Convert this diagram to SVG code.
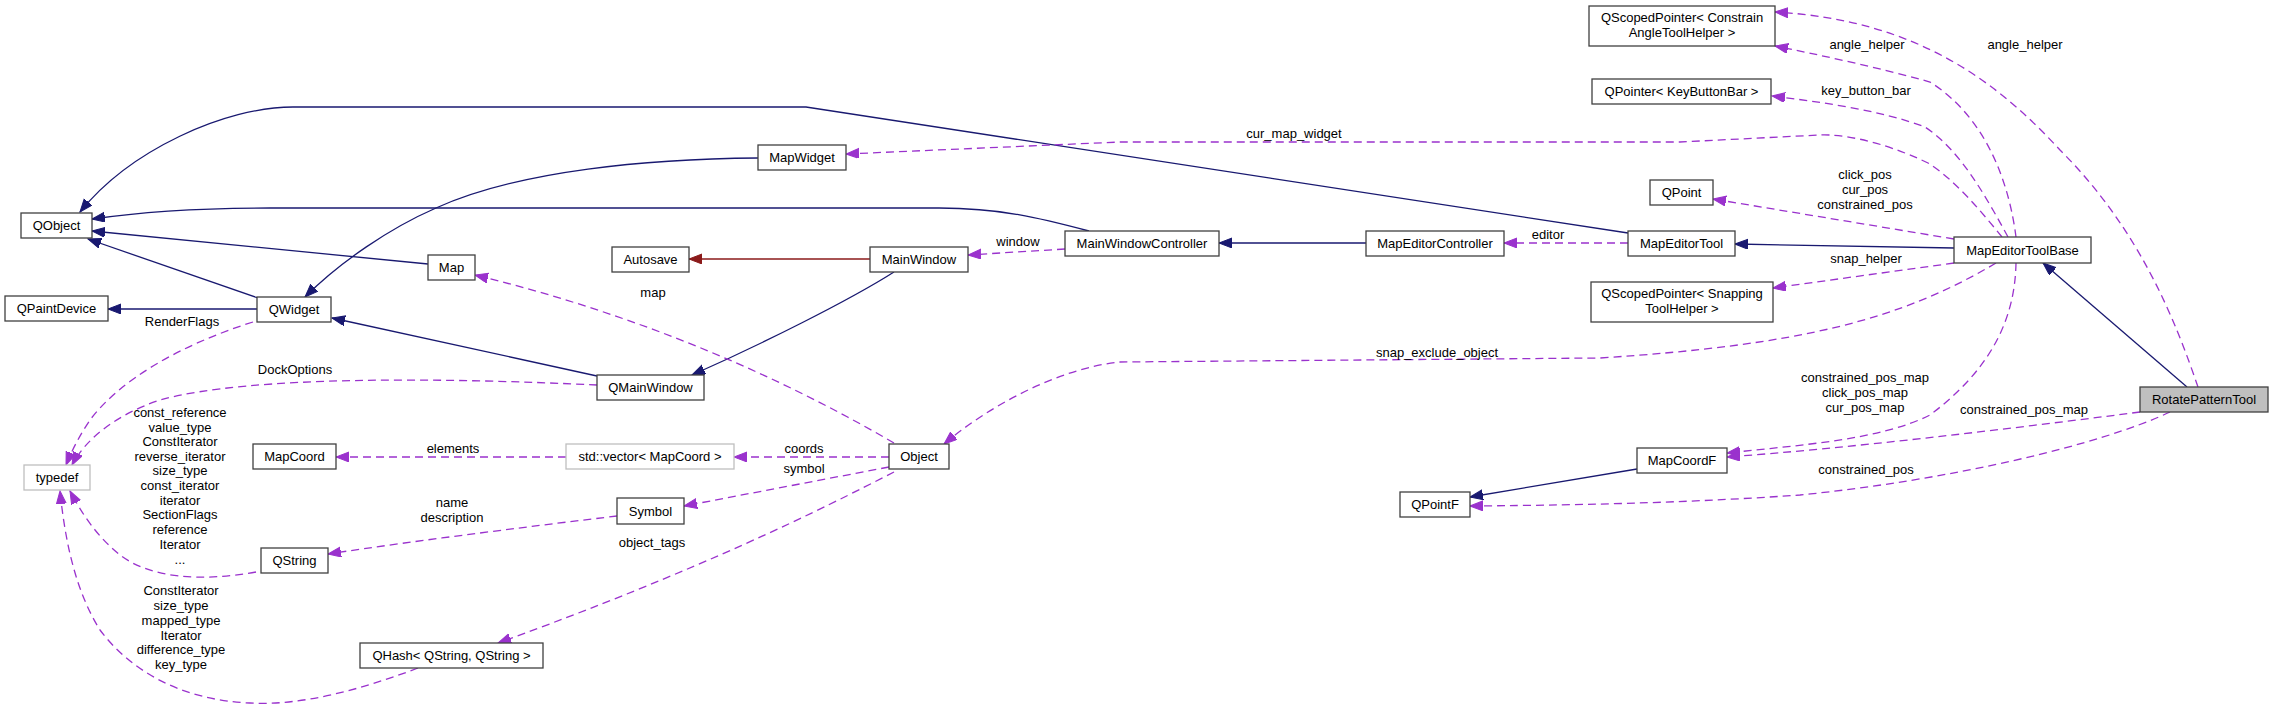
<svg xmlns="http://www.w3.org/2000/svg" width="2273" height="710" viewBox="0 0 2273 710">
<style>
.n rect{fill:#fff;stroke:#404040;stroke-width:1.3}
.n.g rect{stroke:#bfbfbf}
.n.m rect{fill:#bfbfbf}
text{font-family:"Liberation Sans",Arial,sans-serif;font-size:13px;fill:#000}
.n text{text-anchor:middle}
.l{text-anchor:middle}
.e path{fill:none;stroke-width:1.3}
.i{stroke:#191970;marker-end:url(#ai)}
.p{stroke:#8b1a1a;marker-end:url(#ap)}
.u{stroke:#9a32cd;stroke-dasharray:8,5;marker-end:url(#au)}
</style>
<defs>
<marker id="ai" markerUnits="userSpaceOnUse" markerWidth="14" markerHeight="11" refX="13" refY="5" orient="auto"><path d="M0,0L13,5L0,10z" fill="#191970" stroke="#191970"/></marker>
<marker id="ap" markerUnits="userSpaceOnUse" markerWidth="14" markerHeight="11" refX="13" refY="5" orient="auto"><path d="M0,0L13,5L0,10z" fill="#8b1a1a" stroke="#8b1a1a"/></marker>
<marker id="au" markerUnits="userSpaceOnUse" markerWidth="14" markerHeight="11" refX="13" refY="5" orient="auto"><path d="M0,0L13,5L0,10z" fill="#9a32cd" stroke="#9a32cd"/></marker>
</defs>
<rect width="2273" height="710" fill="#fff"/>
<g class="e" id="edges">
<path class="i" d="M1628,233 L806,107 L293,107 C225,107 130,150 80,212"/>
<path class="i" d="M1089,231 C1040,218 1000,208 939,208 L270,208 C200,208 140,212 92,219"/>
<path class="i" d="M428,264 L92,231"/>
<path class="i" d="M258,298 L88,239"/>
<path class="i" d="M257,309 L108,309"/>
<path class="i" d="M758,158 C650,159 520,170 436,208 C390,228 340,262 305,297"/>
<path class="i" d="M597,376 L332,318"/>
<path class="i" d="M894,272 C850,300 760,345 692,375"/>
<path class="p" d="M870,259 L689,259"/>
<path class="u" d="M1065,249 L968,255"/>
<path class="i" d="M1366,243 L1219,243"/>
<path class="u" d="M1628,243 L1504,243"/>
<path class="i" d="M1954,248 L1735,244"/>
<path class="i" d="M2187,387 L2043,263"/>
<path class="u" d="M2002,237 C1980,210 1955,180 1928,163 C1880,140 1840,134 1820,135 L1680,142 L1120,142 L846,154"/>
<path class="u" d="M2008,237 C1985,195 1960,150 1925,127 C1880,110 1820,102 1772,96"/>
<path class="u" d="M2016,237 C2010,190 1990,120 1930,82 C1880,68 1820,55 1775,46"/>
<path class="u" d="M2198,387 C2175,320 2140,230 2060,150 C2000,85 1920,20 1775,12"/>
<path class="u" d="M1954,239 L1713,199"/>
<path class="u" d="M1954,263 L1773,288"/>
<path class="u" d="M1996,263 C1900,320 1800,345 1600,358 L1120,362 C1060,368 990,405 944,444"/>
<path class="u" d="M2016,263 C2015,320 1990,370 1930,415 C1880,440 1800,445 1727,453"/>
<path class="u" d="M2140,412 C2000,430 1850,448 1727,457"/>
<path class="u" d="M2170,412 C2100,445 1950,480 1800,495 C1700,502 1600,505 1470,506"/>
<path class="i" d="M1637,469 L1470,497"/>
<path class="u" d="M894,443 Q700,330 475,275"/>
<path class="u" d="M889,457 L734,457"/>
<path class="u" d="M889,467 L684,506"/>
<path class="u" d="M894,472 C820,510 700,570 498,643"/>
<path class="u" d="M566,457 L336,457"/>
<path class="u" d="M617,516 C550,524 420,540 328,554"/>
<path class="u" d="M253,322 C180,345 120,380 90,420 C80,435 72,450 66,465"/>
<path class="u" d="M597,385 C450,378 250,375 160,400 C115,415 85,440 72,465"/>
<path class="u" d="M256,572 C200,582 150,578 120,555 C95,535 80,510 70,491"/>
<path class="u" d="M418,668 C360,690 300,706 250,703 C180,700 130,670 100,630 C75,590 65,540 60,491"/>
</g>
<g id="edge-labels">
<text class="l" x="182" y="326">RenderFlags</text>
<text class="l" x="295" y="374">DockOptions</text>
<text class="l" x="180" y="417">const_reference</text>
<text class="l" x="180" y="431.5">value_type</text>
<text class="l" x="180" y="446">ConstIterator</text>
<text class="l" x="180" y="461">reverse_iterator</text>
<text class="l" x="180" y="475">size_type</text>
<text class="l" x="180" y="490">const_iterator</text>
<text class="l" x="180" y="504.5">iterator</text>
<text class="l" x="180" y="519">SectionFlags</text>
<text class="l" x="180" y="534">reference</text>
<text class="l" x="180" y="549">Iterator</text>
<text class="l" x="180" y="564">...</text>
<text class="l" x="181" y="595">ConstIterator</text>
<text class="l" x="181" y="610">size_type</text>
<text class="l" x="181" y="625">mapped_type</text>
<text class="l" x="181" y="639.5">Iterator</text>
<text class="l" x="181" y="654">difference_type</text>
<text class="l" x="181" y="669">key_type</text>
<text class="l" x="453" y="453">elements</text>
<text class="l" x="452" y="507">name</text>
<text class="l" x="452" y="522">description</text>
<text class="l" x="653" y="297">map</text>
<text class="l" x="1018" y="246">window</text>
<text class="l" x="804" y="453">coords</text>
<text class="l" x="804" y="473">symbol</text>
<text class="l" x="652" y="547">object_tags</text>
<text class="l" x="1294" y="138">cur_map_widget</text>
<text class="l" x="1548" y="239">editor</text>
<text class="l" x="1437" y="357">snap_exclude_object</text>
<text class="l" x="1867" y="49">angle_helper</text>
<text class="l" x="2025" y="49">angle_helper</text>
<text class="l" x="1866" y="95">key_button_bar</text>
<text class="l" x="1865" y="179">click_pos</text>
<text class="l" x="1865" y="194">cur_pos</text>
<text class="l" x="1865" y="209">constrained_pos</text>
<text class="l" x="1866" y="263">snap_helper</text>
<text class="l" x="1865" y="382">constrained_pos_map</text>
<text class="l" x="1865" y="397">click_pos_map</text>
<text class="l" x="1865" y="411.5">cur_pos_map</text>
<text class="l" x="2024" y="414">constrained_pos_map</text>
<text class="l" x="1866" y="474">constrained_pos</text>
</g>
<g class="n m" id="RotatePatternTool"><rect x="2140" y="387" width="128" height="25"/><text x="2204" y="404">RotatePatternTool</text></g>
<g class="n" id="MapEditorToolBase"><rect x="1954" y="237" width="137" height="26"/><text x="2022.5" y="254.5">MapEditorToolBase</text></g>
<g class="n" id="MapEditorTool"><rect x="1628" y="231" width="107" height="25"/><text x="1681.5" y="248">MapEditorTool</text></g>
<g class="n" id="QObject"><rect x="21" y="213" width="71" height="25"/><text x="56.5" y="230">QObject</text></g>
<g class="n" id="MapEditorController"><rect x="1366" y="231" width="138" height="25"/><text x="1435" y="248">MapEditorController</text></g>
<g class="n" id="MainWindowController"><rect x="1065" y="231" width="154" height="25"/><text x="1142" y="248">MainWindowController</text></g>
<g class="n" id="MainWindow"><rect x="870" y="247" width="98" height="25"/><text x="919" y="264">MainWindow</text></g>
<g class="n" id="Autosave"><rect x="612" y="247" width="77" height="25"/><text x="650.5" y="264">Autosave</text></g>
<g class="n" id="QMainWindow"><rect x="597" y="375" width="107" height="25"/><text x="650.5" y="392">QMainWindow</text></g>
<g class="n" id="QWidget"><rect x="257" y="297" width="74" height="25"/><text x="294" y="314">QWidget</text></g>
<g class="n" id="QPaintDevice"><rect x="5" y="296" width="103" height="25"/><text x="56.5" y="313">QPaintDevice</text></g>
<g class="n g" id="typedef"><rect x="24" y="465" width="66" height="25"/><text x="57" y="482">typedef</text></g>
<g class="n" id="MapWidget"><rect x="758" y="145" width="88" height="25"/><text x="802" y="162">MapWidget</text></g>
<g class="n" id="Map"><rect x="428" y="255" width="47" height="25"/><text x="451.5" y="272">Map</text></g>
<g class="n" id="Object"><rect x="889" y="444" width="60" height="25"/><text x="919" y="461">Object</text></g>
<g class="n g" id="std_vector_MapCoord"><rect x="566" y="444" width="168" height="25"/><text x="650" y="461">std::vector&lt; MapCoord &gt;</text></g>
<g class="n" id="MapCoord"><rect x="253" y="444" width="83" height="25"/><text x="294.5" y="461">MapCoord</text></g>
<g class="n" id="Symbol"><rect x="617" y="498" width="67" height="26"/><text x="650.5" y="515.5">Symbol</text></g>
<g class="n" id="QString"><rect x="261" y="548" width="67" height="25"/><text x="294.5" y="565">QString</text></g>
<g class="n" id="QHash"><rect x="360" y="643" width="183" height="25"/><text x="451.5" y="660">QHash&lt; QString, QString &gt;</text></g>
<g class="n" id="QScopedPointer_Constrain"><rect x="1589" y="6" width="186" height="40"/><text x="1682" y="22">QScopedPointer&lt; Constrain</text><text x="1682" y="37">AngleToolHelper &gt;</text></g>
<g class="n" id="QPointer_KeyButtonBar"><rect x="1592" y="79" width="179" height="25"/><text x="1681.5" y="96">QPointer&lt; KeyButtonBar &gt;</text></g>
<g class="n" id="QPoint"><rect x="1650" y="180" width="63" height="25"/><text x="1681.5" y="197">QPoint</text></g>
<g class="n" id="QScopedPointer_Snapping"><rect x="1591" y="282" width="182" height="40"/><text x="1682" y="298">QScopedPointer&lt; Snapping</text><text x="1682" y="313">ToolHelper &gt;</text></g>
<g class="n" id="MapCoordF"><rect x="1637" y="448" width="90" height="25"/><text x="1682" y="465">MapCoordF</text></g>
<g class="n" id="QPointF"><rect x="1400" y="492" width="70" height="25"/><text x="1435" y="509">QPointF</text></g>
</svg>
